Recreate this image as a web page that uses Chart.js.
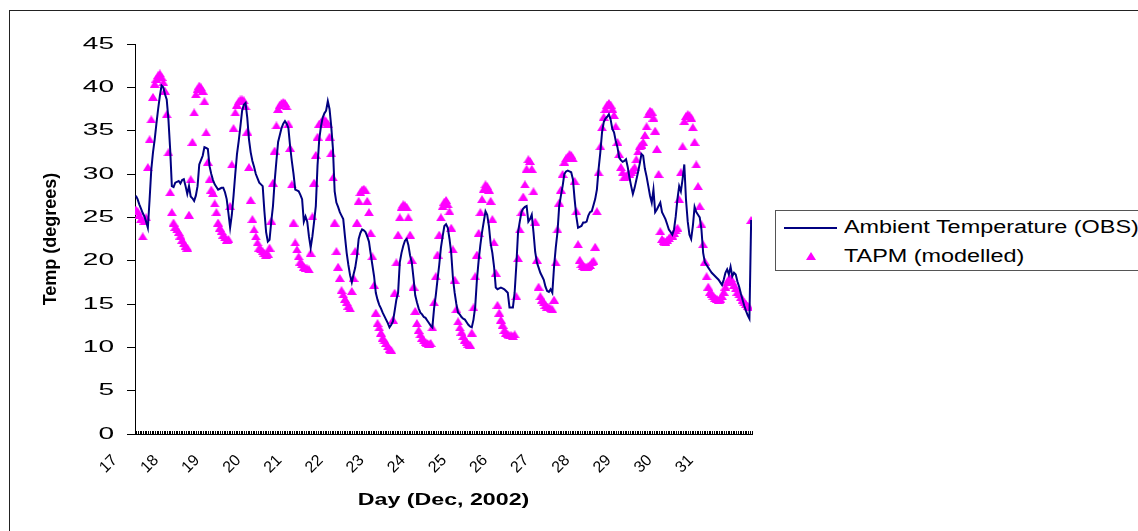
<!DOCTYPE html>
<html>
<head>
<meta charset="utf-8">
<script src="https://cdn.jsdelivr.net/npm/chart.js@4.4.1/dist/chart.umd.min.js"></script>
<style>
  html, body { margin: 0; padding: 0; background: #fff; overflow: hidden; }
  #wrap { position: relative; width: 1138px; height: 531px; overflow: hidden; }
  #frame { position: absolute; left: 9px; top: 10px; width: 1200px; height: 600px; border: 1px solid #222; }
  #chart { position: absolute; left: 0; top: 0; }
  #legend { position: absolute; left: 775px; top: 210px; width: 420px; height: 59px;
            border: 1px solid #555; background: #fff;
            font-family: 'Liberation Sans', Arial, sans-serif; font-size: 18px; color: #000; }
  #legend .txt { position: absolute; left: 68px; line-height: 20px; white-space: nowrap;
                 transform: scaleX(1.3); transform-origin: left center; }
  #legend .lineSample { position: absolute; left: 8px; top: 16px; width: 53px; height: 2px; background: #000080; }
  #legend .triSample { position: absolute; left: 30px; top: 41px; width: 0; height: 0;
                       border-left: 5px solid transparent; border-right: 5px solid transparent;
                       border-bottom: 8px solid #ff00ff; }
</style>
</head>
<body>
<div id="wrap">
  <div id="frame"></div>
  <canvas id="chart" width="1138" height="531"></canvas>
  <div id="legend">
    <div class="lineSample"></div>
    <div class="txt" style="top:6px">Ambient Temperature (OBS)</div>
    <div class="triSample"></div>
    <div class="txt" style="top:35px">TAPM (modelled)</div>
  </div>
</div>
<script>
// hourly values, 17 Dec .. 31 Dec 2002, one row per day (24 h)
const dayLabels = ['17', '18', '19', '20', '21', '22', '23', '24', '25', '26', '27', '28', '29', '30', '31'];
const hoursPerDay = 24;

const obsTemp = [
  27.5, 27.1, 26.5, 26.0, 25.5, 25.1, 24.5, 23.8, 27.0, 30.5, 32.5, 34.0, 35.8, 37.5, 39.0, 40.2, 40.0, 39.2, 38.6, 36.3, 32.9, 28.6, 28.5, 29.0,
  29.1, 29.2, 28.9, 29.3, 29.4, 28.6, 27.7, 28.6, 27.4, 27.2, 26.9, 27.5, 28.6, 31.1, 31.6, 32.1, 33.1, 33.0, 32.9, 30.9, 30.0, 29.3, 28.8, 28.5,
  28.2, 28.3, 28.4, 28.4, 27.9, 27.1, 25.5, 23.8, 25.3, 27.5, 30.0, 32.3, 33.8, 35.5, 37.3, 38.0, 38.2, 36.5, 34.0, 32.5, 31.5, 30.8, 30.0, 29.5,
  29.0, 28.8, 28.6, 25.7, 23.3, 22.2, 22.4, 24.5, 26.3, 29.2, 31.5, 33.7, 34.5, 35.3, 35.8, 36.1, 35.8, 35.3, 33.2, 31.5, 30.0, 28.2, 28.1, 28.0,
  27.6, 27.1, 24.5, 25.1, 24.5, 22.8, 21.5, 22.8, 24.5, 26.3, 31.0, 34.0, 35.5, 36.5, 37.0, 37.3, 38.4, 37.5, 35.5, 32.9, 28.0, 26.7, 26.2, 25.6,
  25.2, 24.8, 22.8, 20.9, 19.5, 18.3, 17.5, 18.4, 19.2, 20.5, 22.5, 23.2, 23.6, 23.5, 23.3, 22.8, 22.2, 20.8, 19.5, 18.2, 16.3, 15.5, 14.9, 14.5,
  14.0, 13.6, 13.2, 12.8, 12.3, 12.6, 13.0, 14.2, 15.5, 16.3, 19.8, 20.9, 21.7, 22.3, 22.5, 21.8, 20.6, 19.8, 18.0, 16.0, 15.2, 14.5, 14.0, 13.8,
  13.5, 13.4, 13.1, 12.8, 12.5, 12.3, 14.5, 16.0, 17.8, 19.5, 21.5, 22.8, 24.0, 24.2, 23.8, 22.5, 20.9, 18.0, 16.3, 15.0, 14.0, 13.8, 13.5, 13.3,
  13.2, 12.9, 12.6, 12.4, 12.3, 13.2, 14.7, 17.8, 20.0, 21.8, 23.3, 24.5, 25.7, 25.3, 24.0, 22.0, 20.9, 19.3, 16.9, 16.7, 16.8, 16.9, 16.8, 16.7,
  16.5, 16.3, 14.6, 14.6, 14.6, 16.3, 19.5, 23.3, 24.5, 25.6, 26.0, 26.2, 26.3, 24.5, 24.8, 25.3, 23.3, 21.0, 19.8, 19.2, 18.6, 18.2, 17.8, 17.0,
  16.5, 16.4, 16.7, 16.3, 19.3, 21.5, 23.3, 26.3, 27.5, 28.6, 30.0, 30.3, 30.4, 30.3, 30.2, 29.4, 27.1, 25.1, 23.8, 23.9, 24.0, 24.4, 24.4, 24.5,
  25.2, 25.6, 25.7, 26.4, 27.1, 28.2, 30.6, 32.5, 34.8, 36.0, 36.4, 36.6, 36.9, 36.3, 35.2, 34.8, 33.8, 33.1, 31.9, 31.6, 31.4, 31.5, 31.7, 30.8,
  29.6, 28.6, 27.7, 28.4, 29.3, 30.2, 31.2, 32.3, 32.1, 30.6, 29.7, 28.6, 27.5, 26.7, 28.2, 25.6, 25.9, 26.3, 26.7, 25.6, 25.2, 24.8, 24.2, 23.6,
  23.3, 23.0, 23.6, 25.1, 27.1, 28.6, 28.0, 29.4, 31.1, 27.0, 24.5, 23.0, 22.5, 24.0, 26.2, 25.6, 25.3, 25.0, 23.6, 20.9, 19.8, 19.5, 19.2, 18.9,
  18.6, 18.4, 18.2, 18.0, 17.8, 17.5, 17.2, 17.8, 18.6, 19.0, 18.4, 19.3, 18.2, 18.6, 18.4, 17.6, 17.0, 16.2, 15.5, 14.8, 14.2, 13.7, 13.3, 24.7
];

const tapmTemp = [
  25.9, 25.7, 25.3, 24.8, 22.8, 24.6, 25.0, 30.8, 34.0, 36.3, 38.9, 40.4, 41.0, 41.4, 41.6, 41.2, 40.6, 39.6, 36.9, 32.5, 27.9, 25.6, 24.4, 23.9,
  23.6, 23.3, 22.9, 22.4, 22.0, 21.7, 21.5, 25.3, 29.4, 33.7, 37.1, 39.2, 39.8, 40.2, 40.0, 39.6, 38.4, 34.8, 31.4, 29.4, 28.2, 27.8, 26.6, 25.6,
  24.4, 23.8, 23.4, 23.0, 22.7, 22.4, 22.5, 26.3, 31.1, 35.3, 37.1, 38.0, 38.4, 38.6, 38.6, 38.5, 37.8, 34.9, 30.8, 27.0, 24.8, 23.6, 22.8, 22.1,
  21.5, 21.3, 21.1, 20.9, 20.7, 20.8, 21.5, 24.6, 29.0, 32.7, 35.6, 37.5, 38.0, 38.2, 38.3, 38.2, 37.8, 35.8, 33.0, 28.8, 24.4, 22.1, 21.3, 20.5,
  19.9, 19.6, 19.3, 19.2, 19.1, 19.0, 20.9, 25.1, 29.0, 32.2, 34.3, 35.8, 36.0, 36.2, 36.3, 36.1, 35.8, 34.3, 32.4, 29.6, 24.4, 21.1, 19.3, 18.0,
  16.6, 16.1, 15.6, 15.2, 14.8, 14.5, 16.5, 18.0, 21.1, 24.4, 26.9, 27.9, 28.2, 28.3, 28.1, 26.9, 25.6, 23.2, 20.5, 17.2, 14.0, 12.8, 12.3, 11.7,
  11.1, 10.8, 10.5, 10.1, 9.8, 9.7, 13.2, 16.3, 19.8, 23.0, 25.0, 26.2, 26.5, 26.4, 26.2, 25.0, 23.0, 20.1, 17.0, 14.2, 12.8, 12.0, 11.5, 11.1,
  10.8, 10.6, 10.5, 10.4, 10.5, 12.3, 15.2, 18.2, 20.7, 23.0, 25.0, 26.3, 26.8, 27.0, 26.5, 25.7, 23.8, 21.3, 17.8, 14.4, 13.0, 12.3, 11.8, 11.3,
  10.9, 10.6, 10.4, 10.3, 11.7, 14.6, 18.2, 20.7, 23.2, 25.6, 27.1, 28.3, 28.8, 28.6, 28.2, 26.9, 24.8, 22.1, 18.6, 14.9, 14.0, 13.2, 12.6, 12.0,
  11.7, 11.5, 11.4, 11.4, 11.3, 11.5, 15.9, 20.3, 23.6, 25.6, 27.4, 28.8, 30.6, 31.7, 31.5, 30.6, 28.0, 24.5, 20.1, 17.0, 15.9, 15.5, 15.2, 14.9,
  14.7, 14.6, 14.5, 14.4, 15.5, 19.8, 23.6, 26.7, 28.2, 30.0, 31.4, 31.8, 32.0, 32.3, 32.2, 31.8, 29.2, 25.7, 21.9, 20.1, 19.6, 19.4, 19.3, 19.3,
  19.4, 19.5, 19.8, 20.0, 21.6, 25.7, 30.2, 33.2, 35.4, 36.6, 37.5, 38.0, 38.2, 38.0, 37.5, 36.8, 35.5, 33.7, 32.3, 30.8, 30.2, 29.7, 29.8, 30.0,
  30.0, 30.2, 30.5, 30.8, 31.7, 32.6, 33.2, 33.4, 33.7, 34.5, 35.5, 36.9, 37.3, 37.2, 36.5, 35.0, 32.9, 30.0, 23.4, 22.5, 22.3, 22.2, 22.4, 22.6,
  22.8, 22.9, 23.2, 23.5, 23.8, 27.1, 30.2, 33.2, 36.1, 36.7, 36.9, 36.8, 36.5, 35.4, 33.7, 31.1, 28.6, 26.3, 24.2, 21.9, 19.9, 18.2, 17.0, 16.4,
  16.2, 15.9, 15.7, 15.6, 15.5, 15.6, 15.9, 16.4, 17.0, 17.5, 17.9, 18.0, 17.6, 17.2, 16.8, 16.4, 16.1, 15.8, 15.5, 15.2, 15.0, 14.8, 14.6, 24.7
];

const yTicks = [0, 5, 10, 15, 20, 25, 30, 35, 40, 45];

const FONT = "'Liberation Sans', Arial, sans-serif";
const totalHours = dayLabels.length * hoursPerDay;

// each hour sits in the middle of its category slot
const obsPoints = obsTemp.map((v, i) => ({ x: i + 0.5, y: v }));
const tapmPoints = tapmTemp.map((v, i) => ({ x: i + 0.5, y: v }));

// flat excel-style triangle marker
const tri = document.createElement('canvas');
tri.width = 10;
tri.height = 8;
let tctx = tri.getContext('2d');
tctx.fillStyle = '#ff00ff';
tctx.beginPath();
tctx.moveTo(5, 0);
tctx.lineTo(10, 8);
tctx.lineTo(0, 8);
tctx.closePath();
tctx.fill();

// excel text in the original looks horizontally stretched
const stretchText = {
  id: 'stretchText',
  beforeDraw(chart) {
    const ctx = chart.ctx;
    if (ctx.__stretched) return;
    const fill = ctx.fillText.bind(ctx);
    ctx.fillText = function (text, x, y, maxWidth) {
      const m = ctx.getTransform();
      if (m.b !== 0 || m.c !== 0) {
        return maxWidth === undefined ? fill(text, x, y) : fill(text, x, y, maxWidth);
      }
      const k = ctx.font.indexOf('bold') >= 0 ? 1.45 : 1.65;
      ctx.save();
      ctx.translate(x, y);
      ctx.scale(k, 1);
      if (maxWidth === undefined) fill(text, 0, 0); else fill(text, 0, 0, maxWidth);
      ctx.restore();
    };
    ctx.__stretched = true;
  }
};

let chartvar = document.getElementById('chart');

new Chart(chartvar, {
  type: 'line',
  data: {
    datasets: [
      {
        label: 'Ambient Temperature (OBS)',
        data: obsPoints,
        borderColor: '#000080',
        backgroundColor: '#000080',
        borderWidth: 2,
        pointRadius: 0,
        tension: 0,
        fill: false
      },
      {
        label: 'TAPM (modelled)',
        data: tapmPoints,
        showLine: false,
        pointStyle: tri,
        pointRadius: 5,
        backgroundColor: '#ff00ff',
        borderColor: '#ff00ff'
      }
    ]
  },
  options: {
    responsive: false,
    animation: false,
    events: [],
    layout: { padding: { left: 40, top: 44, right: 386, bottom: 21 } },
    plugins: {
      legend: { display: false },
      tooltip: { enabled: false }
    },
    scales: {
      x: {
        type: 'linear',
        min: 0,
        max: totalHours,
        afterBuildTicks: (scale) => {
          // one small tick per hour, labels only at day boundaries
          scale.ticks = [];
          for (let h = 0; h <= totalHours; h++) scale.ticks.push({ value: h });
        },
        afterFit: (scale) => { scale.height = 76; },
        grid: { drawOnChartArea: false, color: '#000', tickLength: -3, lineWidth: 1 },
        border: { display: true, color: '#000', width: 1 },
        ticks: {
          autoSkip: false,
          minRotation: 45,
          maxRotation: 45,
          labelOffset: -20,
          padding: 20,
          color: '#000',
          font: { family: FONT, size: 16 },
          callback: (v) => (v % hoursPerDay === 0 && v < totalHours) ? dayLabels[v / hoursPerDay] : ''
        },
        title: {
          display: true,
          text: 'Day (Dec, 2002)',
          color: '#000',
          padding: 0,
          font: { family: FONT, size: 16, weight: 'bold' }
        }
      },
      y: {
        min: 0,
        max: 45,
        afterBuildTicks: (scale) => { scale.ticks = yTicks.map(v => ({ value: v })); },
        afterFit: (scale) => { scale.width = 95; },
        grid: { drawOnChartArea: false, color: '#000', tickLength: 8 },
        border: { display: true, color: '#000', width: 1 },
        ticks: {
          padding: 13,
          color: '#000',
          font: { family: FONT, size: 17 }
        },
        title: {
          display: true,
          text: 'Temp (degrees)',
          color: '#000',
          padding: 0,
          font: { family: FONT, size: 18, weight: 'bold' }
        }
      }
    }
  },
  plugins: [stretchText]
});
</script>
</body>
</html>
